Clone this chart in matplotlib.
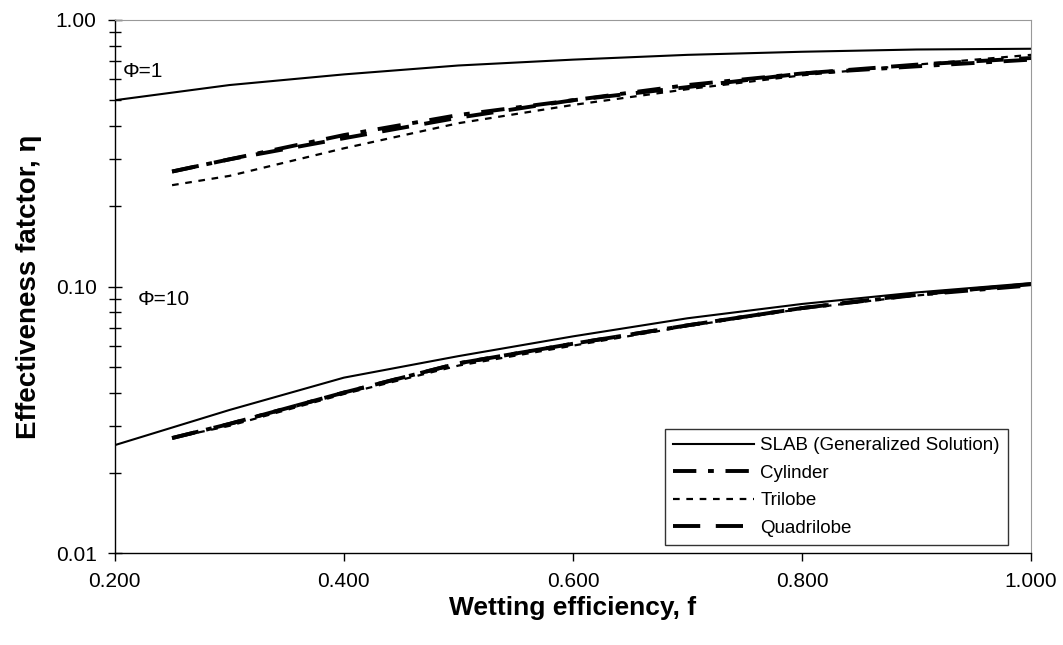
import numpy as np
import matplotlib
matplotlib.use("Agg")
import matplotlib.pyplot as plt
from matplotlib.ticker import FixedLocator, FuncFormatter, NullFormatter

plt.rcParams['font.family'] = ['Liberation Sans', 'DejaVu Sans']

# Phi = 1
f_slab = [0.2, 0.3, 0.4, 0.5, 0.6, 0.7, 0.8, 0.9, 1.0]
slab_phi1 = [0.50, 0.57, 0.625, 0.675, 0.71, 0.74, 0.76, 0.775, 0.78]
f_shape = [0.25, 0.3, 0.4, 0.5, 0.6, 0.7, 0.8, 0.9, 1.0]
cyl_phi1 = [0.27, 0.30, 0.37, 0.44, 0.50, 0.57, 0.63, 0.67, 0.71]
tri_phi1 = [0.24, 0.26, 0.33, 0.41, 0.48, 0.55, 0.62, 0.68, 0.74]
quad_phi1 = [0.27, 0.30, 0.36, 0.43, 0.50, 0.56, 0.63, 0.68, 0.72]

# Phi = 10
slab_phi10 = [0.0254, 0.0344, 0.0455, 0.0548, 0.0650, 0.0760, 0.0860, 0.0950, 0.103]
cyl_phi10 = [0.027, 0.0305, 0.0400, 0.0515, 0.0610, 0.0715, 0.0830, 0.0930, 0.101]
tri_phi10 = [0.027, 0.0300, 0.0395, 0.0505, 0.0600, 0.0710, 0.0825, 0.0925, 0.102]
quad_phi10 = [0.027, 0.0305, 0.0400, 0.0515, 0.0610, 0.0715, 0.0830, 0.0935, 0.102]

fig = plt.figure(figsize=(10.63, 6.45), dpi=100)
ax = fig.add_axes([0.108, 0.1426, 0.862, 0.8264])

slab_style = dict(color='black', lw=1.5, linestyle='-')
cyl_style = dict(color='black', lw=2.8, linestyle=(0, (6, 3, 1.5, 3)))
tri_style = dict(color='black', lw=1.6, linestyle=(0, (3, 3)))
quad_style = dict(color='black', lw=2.8, linestyle=(0, (7, 4)))

ax.plot(f_slab, slab_phi1, label='SLAB (Generalized Solution)', **slab_style)
ax.plot(f_shape, cyl_phi1, label='Cylinder', **cyl_style)
ax.plot(f_shape, tri_phi1, label='Trilobe', **tri_style)
ax.plot(f_shape, quad_phi1, label='Quadrilobe', **quad_style)

ax.plot(f_slab, slab_phi10, **slab_style)
ax.plot(f_shape, cyl_phi10, **cyl_style)
ax.plot(f_shape, tri_phi10, **tri_style)
ax.plot(f_shape, quad_phi10, **quad_style)

ax.set_yscale('log')
ax.set_xlim(0.2, 1.0)
ax.set_ylim(0.01, 1.0)

ax.set_xticks([0.2, 0.4, 0.6, 0.8, 1.0])
ax.xaxis.set_major_formatter(FuncFormatter(lambda v, p: f"{v:.3f}"))
ax.yaxis.set_major_locator(FixedLocator([0.01, 0.1, 1.0]))
ax.yaxis.set_major_formatter(FuncFormatter(lambda v, p: f"{v:.2f}"))
minor = [m * d for d in (0.01, 0.1) for m in range(2, 10)]
ax.yaxis.set_minor_locator(FixedLocator(minor))
ax.yaxis.set_minor_formatter(NullFormatter())

ax.tick_params(axis='x', direction='out', length=6, width=1, labelsize=15, pad=8)
ax.tick_params(axis='y', which='major', direction='inout', length=10, width=1, labelsize=15, pad=8)
ax.tick_params(axis='y', which='minor', direction='inout', length=9, width=1)

for s in ['top', 'right']:
    ax.spines[s].set_color('#999999')
    ax.spines[s].set_linewidth(0.8)
for s in ['left', 'bottom']:
    ax.spines[s].set_color('black')
    ax.spines[s].set_linewidth(1.0)

ax.set_xlabel('Wetting efficiency, f', fontsize=19, fontweight='bold', labelpad=3)
ax.set_ylabel('Effectiveness fatctor, η', fontsize=20, fontweight='bold', labelpad=10)

ax.text(0.207, 0.64, 'Φ=1', fontsize=15, va='center', ha='left')
ax.text(0.22, 0.089, 'Φ=10', fontsize=15, va='center', ha='left')

leg = ax.legend(loc='lower right', bbox_to_anchor=(0.975, 0.015), borderaxespad=0,
                fontsize=13.5, frameon=True, fancybox=False, edgecolor='black',
                handlelength=4.3, handletextpad=0.35, borderpad=0.45, labelspacing=0.55)
leg.get_frame().set_linewidth(1.0)

fig.savefig('out.png', dpi=100)
